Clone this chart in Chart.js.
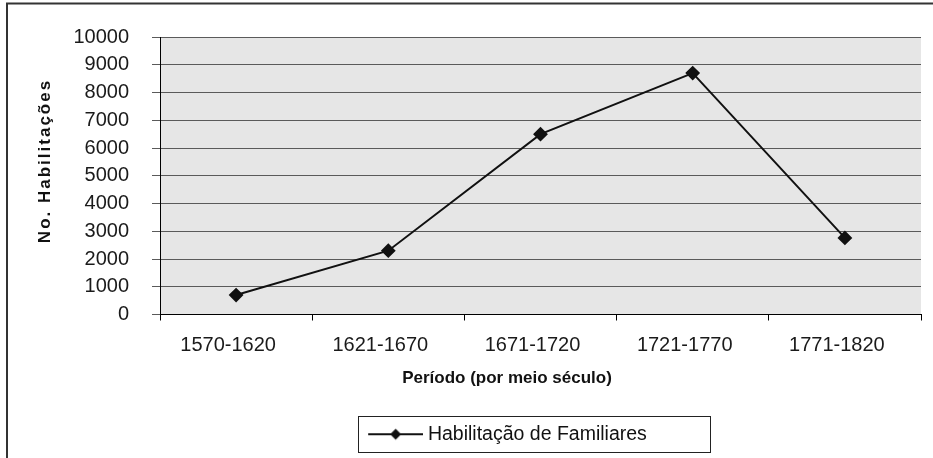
<!DOCTYPE html>
<html>
<head>
<meta charset="utf-8">
<script src="https://cdn.jsdelivr.net/npm/chart.js@4.4.0/dist/chart.umd.min.js"></script>
<style>
  html, body { margin: 0; padding: 0; background: #fff; }
  #caixa { width: 933px; height: 458px; }
</style>
</head>
<body>
<div id="caixa"><canvas id="grafico"></canvas></div>
<script>
// periodos (eixo x)
const periodos = ['1570-1620', '1621-1670', '1671-1720', '1721-1770', '1771-1820'];
// numero de habilitacoes em cada periodo
const habilitacoes = [700, 2300, 6500, 8700, 2760];
// textos
const nomeSerie = 'Habilitação de Familiares';
const tituloY = 'No. Habilitações';
const tituloX = 'Período (por meio século)';
// escala do eixo y
const yMin = 0;
const yMax = 10000;
const yPasso = 1000;

const fonte = 'Arial, "Liberation Sans", sans-serif';
Chart.defaults.font.family = fonte;

// simbolo da legenda: linha com losango no meio
const simbolo = document.createElement('canvas');
simbolo.width = 70;
simbolo.height = 14;
const sc = simbolo.getContext('2d');
sc.strokeStyle = '#111';
sc.lineWidth = 2;
sc.beginPath();
sc.moveTo(15, 7);
sc.lineTo(70, 7);
sc.stroke();
sc.fillStyle = '#111';
sc.beginPath();
sc.moveTo(42.5, 1.5);
sc.lineTo(48, 7);
sc.lineTo(42.5, 12.5);
sc.lineTo(37, 7);
sc.closePath();
sc.fill();

// fundo cinza, moldura, titulos e caixa da legenda
const extras = {
  id: 'extras',
  afterLayout(chart) {
    // empurra a legenda para a direita (como no original)
    chart.legend.left += 42;
    chart.legend.right += 42;
  },
  beforeDraw(chart) {
    const ctx = chart.ctx;
    const a = chart.chartArea;
    ctx.save();
    ctx.fillStyle = '#fff';
    ctx.fillRect(0, 0, chart.width, chart.height);
    ctx.fillStyle = '#e6e6e6';
    ctx.fillRect(a.left, a.top, a.right - a.left, a.bottom - a.top);
    // moldura externa
    ctx.strokeStyle = '#333';
    ctx.lineWidth = 2;
    ctx.beginPath();
    ctx.moveTo(7, chart.height + 5);
    ctx.lineTo(7, 3.5);
    ctx.lineTo(chart.width + 5, 3.5);
    ctx.stroke();
    ctx.restore();
  },
  afterDraw(chart) {
    const ctx = chart.ctx;
    ctx.save();
    ctx.fillStyle = '#111';
    ctx.font = 'bold 17px ' + fonte;
    ctx.textAlign = 'center';
    ctx.textBaseline = 'middle';
    // titulo eixo x
    ctx.fillText(tituloX, 507, 378);
    // titulo eixo y
    ctx.translate(45, 161);
    ctx.rotate(-Math.PI / 2);
    ctx.letterSpacing = '2px';
    ctx.fillText(tituloY, 0, 0);
    ctx.restore();

    // caixa da legenda
    const hit = chart.legend.legendHitBoxes[0];
    if (hit) {
      const cy = hit.top + hit.height / 2;
      ctx.save();
      ctx.strokeStyle = '#222';
      ctx.lineWidth = 1;
      ctx.strokeRect(Math.round(hit.left) + 0.5, Math.round(cy - 18) + 0.5, 352, 36);
      ctx.restore();
    }
  }
};

const grafico = new Chart(document.getElementById('grafico'), {
  type: 'line',
  data: {
    labels: periodos,
    datasets: [{
      label: nomeSerie,
      data: habilitacoes,
      borderColor: '#111',
      borderWidth: 2,
      pointStyle: 'rectRot',
      pointRadius: 6,
      pointBackgroundColor: '#111',
      pointBorderColor: '#111',
      tension: 0
    }]
  },
  options: {
    responsive: true,
    maintainAspectRatio: false,
    animation: false,
    layout: { padding: { left: 0, right: 12, top: 37, bottom: 4 } },
    scales: {
      x: {
        offset: true,
        grid: { display: true, drawOnChartArea: false, offset: true, tickLength: 6, color: '#000' },
        border: { color: '#000', width: 1 },
        ticks: { padding: 13, labelOffset: -8, color: '#1a1a1a', font: { size: 20 } },
        afterFit(s) { s.height = 104; }
      },
      y: {
        min: yMin,
        max: yMax,
        grid: { color: '#5a5a5a', tickLength: 8, lineWidth: 1 },
        border: { color: '#000', width: 1 },
        ticks: {
          stepSize: yPasso,
          padding: 23,
          color: '#1a1a1a',
          font: { size: 20 },
          callback: v => String(v)
        },
        afterFit(s) { s.width = 160; }
      }
    },
    plugins: {
      legend: {
        position: 'bottom',
        labels: {
          usePointStyle: true,
          pointStyle: simbolo,
          pointStyleWidth: 60,
          padding: 6,
          color: '#111',
          font: { size: 19.5 }
        }
      },
      tooltip: { enabled: false }
    }
  },
  plugins: [extras]
});
</script>
</body>
</html>
